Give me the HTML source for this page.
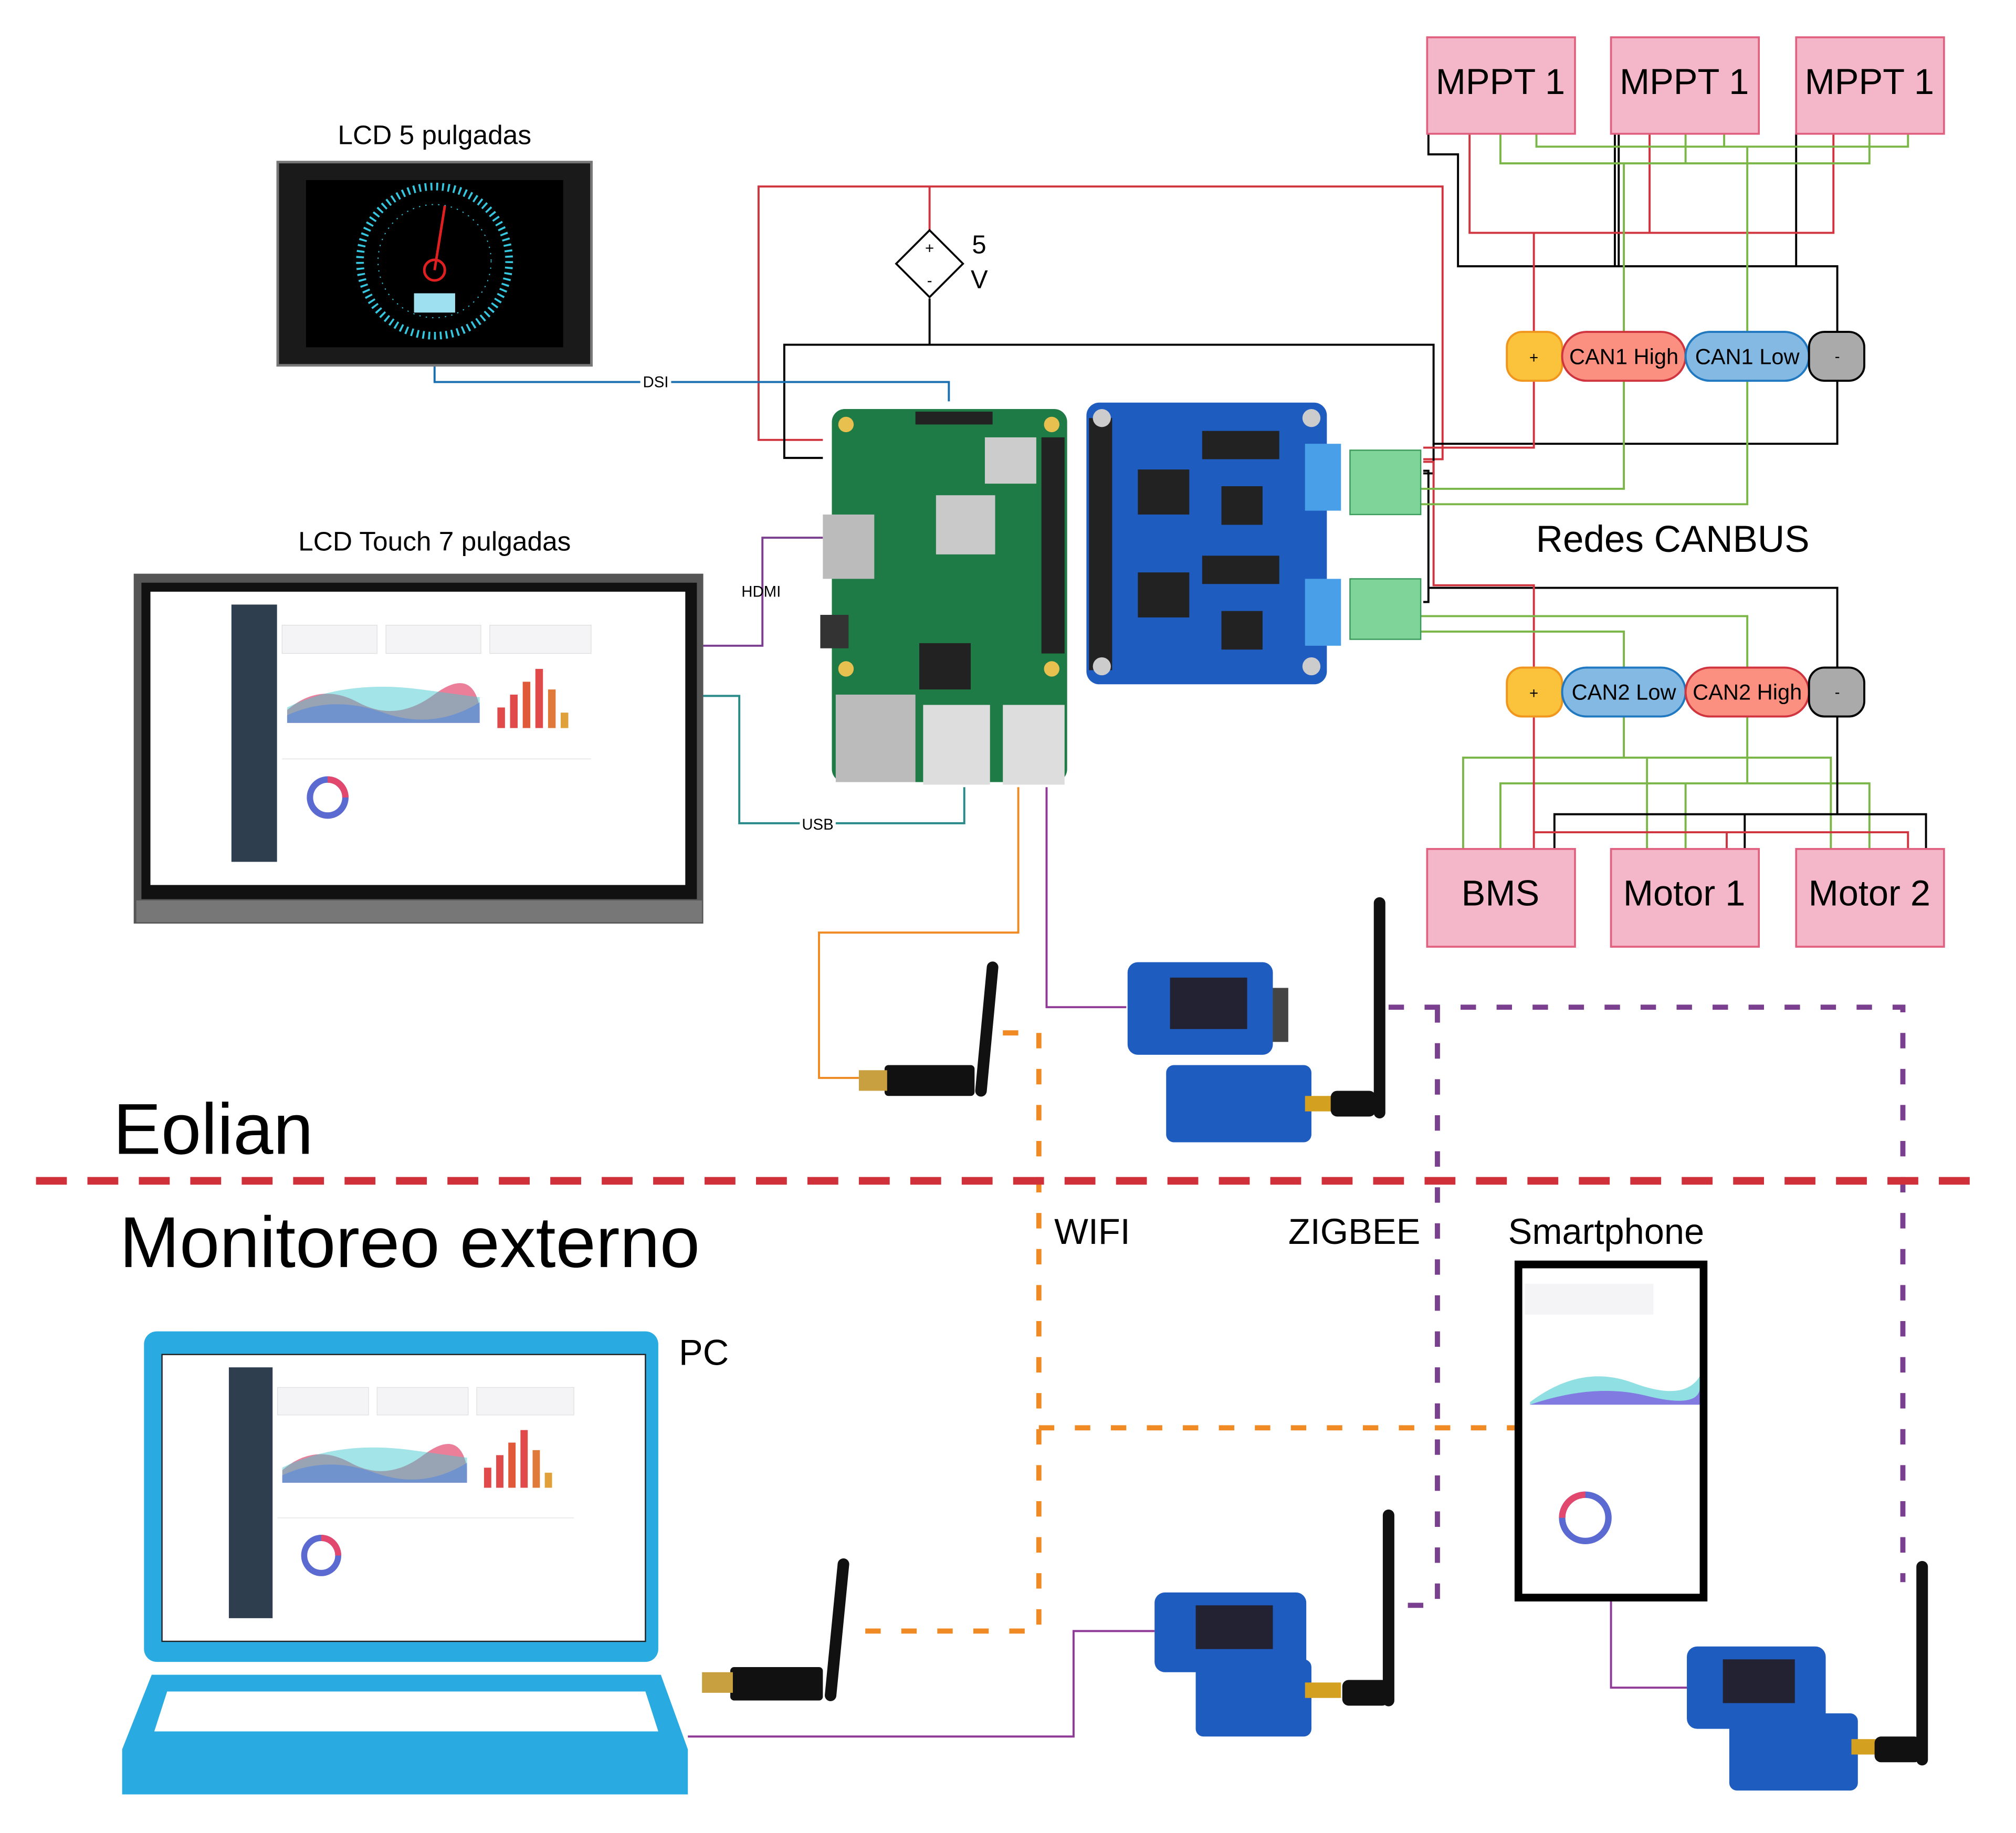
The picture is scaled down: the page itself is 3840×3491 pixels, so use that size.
<!DOCTYPE html>
<html><head><meta charset="utf-8"><style>
html,body{margin:0;padding:0;background:#fff}
svg{display:block}
text{font-family:"Liberation Sans",sans-serif}
</style></head><body>
<svg width="3840" height="3491" viewBox="0 0 1568 1425" preserveAspectRatio="none" xmlns="http://www.w3.org/2000/svg">
<rect width="1568" height="1425" fill="#fff"/>
<defs>
<g id="dash">
  <rect x="0" y="0" width="290" height="200" fill="#fff"/>
  <rect x="0" y="0" width="36" height="200" fill="#2f3e4e"/>
  <rect x="40" y="16" width="75" height="22" fill="#f4f4f6" stroke="#ddd" stroke-width=".5"/>
  <rect x="122" y="16" width="75" height="22" fill="#f4f4f6" stroke="#ddd" stroke-width=".5"/>
  <rect x="204" y="16" width="80" height="22" fill="#f4f4f6" stroke="#ddd" stroke-width=".5"/>
  <path d="M44 82 Q70 60 100 76 T160 70 T196 80 L196 92 L44 92Z" fill="#e2486e" opacity=".7"/>
  <path d="M44 86 Q80 70 120 84 T196 76 L196 92 L44 92Z" fill="#7b4fe0" opacity=".7"/>
  <path d="M44 80 Q90 58 150 66 T196 72 L196 92 L44 92Z" fill="#46c9d0" opacity=".5"/>
  <rect x="210" y="80" width="6" height="16" fill="#e04a4a"/><rect x="220" y="70" width="6" height="26" fill="#e04a4a"/>
  <rect x="230" y="60" width="6" height="36" fill="#e05a3a"/><rect x="240" y="50" width="6" height="46" fill="#e04a4a"/>
  <rect x="250" y="66" width="6" height="30" fill="#e07a3a"/><rect x="260" y="84" width="6" height="12" fill="#e0a03a"/>
  <circle cx="76" cy="150" r="14" fill="none" stroke="#5b6ad0" stroke-width="5"/>
  <path d="M76 136 A14 14 0 0 1 90 150" fill="none" stroke="#e2486e" stroke-width="5"/>
  <line x1="40" y1="120" x2="284" y2="120" stroke="#eee"/>
</g>
</defs>

<g fill="none" stroke-width="1.6">
<polyline points="640,342 590,342 590,145 1122,145 1122,357 1107,357" stroke="#d0343f"/>
<line x1="723" y1="145" x2="723" y2="180" stroke="#d0343f"/>
<polyline points="640,356 610,356 610,268 1115,268 1115,345 1429,345 1429,296" stroke="#000"/>
<line x1="723" y1="232" x2="723" y2="268" stroke="#000"/>
<polyline points="1107,368 1115,368 1115,345" stroke="#000"/>
<polyline points="1107,468 1111,468 1111,366 1107,366" stroke="#000"/>
<polyline points="1111,457 1429,457 1429,519" stroke="#000"/>
<polyline points="1111,104 1111,120 1134,120 1134,207 1429,207 1429,258" stroke="#000"/>
<line x1="1256" y1="104" x2="1256" y2="207" stroke="#000"/>
<line x1="1259" y1="104" x2="1259" y2="207" stroke="#000"/>
<line x1="1397" y1="104" x2="1397" y2="207" stroke="#000"/>
<polyline points="1143,104 1143,181 1426,181 1426,104" stroke="#d0343f"/>
<line x1="1283" y1="104" x2="1283" y2="181" stroke="#d0343f"/>
<line x1="1193" y1="181" x2="1193" y2="258" stroke="#d0343f"/>
<polyline points="1193,296 1193,348 1107,348" stroke="#d0343f"/>
<polyline points="1107,359 1115,359 1115,455 1193,455 1193,519" stroke="#d0343f"/>
<polyline points="1167,104 1167,127 1454,127 1454,104" stroke="#7ab648"/>
<polyline points="1195,104 1195,114 1484,114 1484,104" stroke="#7ab648"/>
<line x1="1311" y1="104" x2="1311" y2="127" stroke="#7ab648"/>
<line x1="1341" y1="104" x2="1341" y2="114" stroke="#7ab648"/>
<line x1="1263" y1="127" x2="1263" y2="258" stroke="#7ab648"/>
<line x1="1359" y1="114" x2="1359" y2="258" stroke="#7ab648"/>
<polyline points="1263,296 1263,380 1105,380" stroke="#7ab648"/>
<polyline points="1359,296 1359,392 1105,392" stroke="#7ab648"/>
<polyline points="1105,479 1359,479 1359,519" stroke="#7ab648"/>
<polyline points="1105,491 1263,491 1263,519" stroke="#7ab648"/>
<polyline points="1263,557 1263,589" stroke="#7ab648"/>
<polyline points="1138,660 1138,589 1424,589 1424,660" stroke="#7ab648"/>
<line x1="1281" y1="589" x2="1281" y2="660" stroke="#7ab648"/>
<line x1="1359" y1="557" x2="1359" y2="609" stroke="#7ab648"/>
<polyline points="1167,660 1167,609 1454,609 1454,660" stroke="#7ab648"/>
<line x1="1311" y1="609" x2="1311" y2="660" stroke="#7ab648"/>
<line x1="1429" y1="557" x2="1429" y2="633" stroke="#000"/>
<polyline points="1209,660 1209,633 1498,633 1498,660" stroke="#000"/>
<line x1="1357" y1="633" x2="1357" y2="660" stroke="#000"/>
<line x1="1193" y1="557" x2="1193" y2="660" stroke="#d0343f"/>
<polyline points="1193,647 1484,647 1484,660" stroke="#d0343f"/>
<line x1="1343" y1="647" x2="1343" y2="660" stroke="#d0343f"/>
</g>

<g fill="#f4b7c9" stroke="#e0607f" stroke-width="1.5">
<rect x="1110" y="29" width="115" height="75"/><rect x="1253" y="29" width="115" height="75"/><rect x="1397" y="29" width="115" height="75"/>
<rect x="1110" y="660" width="115" height="76"/><rect x="1253" y="660" width="115" height="76"/><rect x="1397" y="660" width="115" height="76"/>
</g>
<g font-size="28" text-anchor="middle">
<text x="1167" y="73">MPPT 1</text><text x="1310" y="73">MPPT 1</text><text x="1454" y="73">MPPT 1</text>
<text x="1167" y="704">BMS</text><text x="1310" y="704">Motor 1</text><text x="1454" y="704">Motor 2</text>
</g>

<g stroke-width="1.6">
<rect x="1172" y="258" width="43" height="38" rx="12" fill="#fbc23b" stroke="#f0961e"/>
<rect x="1215" y="258" width="96" height="38" rx="19" fill="#fb9080" stroke="#d0343f"/>
<rect x="1311" y="258" width="96" height="38" rx="19" fill="#83b9e3" stroke="#1f78c0"/>
<rect x="1407" y="258" width="43" height="38" rx="12" fill="#aaa" stroke="#000"/>
<rect x="1172" y="519" width="43" height="38" rx="12" fill="#fbc23b" stroke="#f0961e"/>
<rect x="1215" y="519" width="96" height="38" rx="19" fill="#83b9e3" stroke="#1f78c0"/>
<rect x="1311" y="519" width="96" height="38" rx="19" fill="#fb9080" stroke="#d0343f"/>
<rect x="1407" y="519" width="43" height="38" rx="12" fill="#aaa" stroke="#000"/>
</g>
<g font-size="17" text-anchor="middle">
<text x="1193" y="282" font-size="12">+</text><text x="1263" y="283">CAN1 High</text><text x="1359" y="283">CAN1 Low</text><text x="1429" y="281" font-size="12">-</text>
<text x="1193" y="543" font-size="12">+</text><text x="1263" y="544">CAN2 Low</text><text x="1359" y="544">CAN2 High</text><text x="1429" y="542" font-size="12">-</text>
</g>
<text x="1301" y="429" font-size="29" text-anchor="middle">Redes CANBUS</text>

<polygon points="723,179 749,205 723,231 697,205" fill="#fff" stroke="#000" stroke-width="1.5"/>
<text x="723" y="197" font-size="12" text-anchor="middle">+</text>
<text x="723" y="222" font-size="12" text-anchor="middle">-</text>
<text x="756" y="197" font-size="20">5</text><text x="755" y="224" font-size="20">V</text>

<g fill="none" stroke-width="1.6">
<polyline points="338,284 338,297 738,297 738,312" stroke="#1a6fb0"/>
<polyline points="547,502 593,502 593,418 640,418" stroke="#7b3f8f"/>
<polyline points="547,541 575,541 575,640 750,640 750,612" stroke="#2a8a8a"/>
<polyline points="792,612 792,725 637,725 637,838 668,838" stroke="#f08a24"/>
<polyline points="814,612 814,783 876,783" stroke="#8e3a96"/>
<polyline points="535,1350 835,1350 835,1268 898,1268" stroke="#8e3a96"/>
<polyline points="1253,1245 1253,1312 1312,1312" stroke="#8e3a96"/>
</g>
<rect x="498" y="290" width="24" height="13" fill="#fff"/><text x="510" y="301" font-size="12" text-anchor="middle">DSI</text>
<text x="592" y="464" font-size="12" text-anchor="middle">HDMI</text>
<rect x="622" y="634" width="28" height="13" fill="#fff"/><text x="636" y="645" font-size="12" text-anchor="middle">USB</text>

<text x="338" y="112" font-size="21" text-anchor="middle">LCD 5 pulgadas</text>
<rect x="216" y="126" width="244" height="158" fill="#1a1a1a" stroke="#777" stroke-width="2"/>
<rect x="238" y="140" width="200" height="130" fill="#000"/>
<circle cx="338" cy="203" r="58" fill="none" stroke="#35c8e0" stroke-width="6" stroke-dasharray="1.5 3"/>
<circle cx="338" cy="203" r="44" fill="none" stroke="#35c8e0" stroke-width=".8" stroke-dasharray="1 4"/>
<line x1="338" y1="210" x2="346" y2="160" stroke="#e02020" stroke-width="2"/>
<circle cx="338" cy="210" r="8" fill="none" stroke="#e02020" stroke-width="2"/>
<rect x="322" y="228" width="32" height="15" fill="#9fe0f0"/>

<text x="338" y="428" font-size="21" text-anchor="middle">LCD Touch 7 pulgadas</text>
<rect x="104" y="446" width="443" height="272" fill="#555"/>
<rect x="110" y="453" width="432" height="246" fill="#111"/>
<rect x="117" y="460" width="416" height="228" fill="#fff"/>
<rect x="106" y="700" width="440" height="17" fill="#777"/>
<use href="#dash" transform="translate(180,470) scale(0.985,1)"/>

<rect x="647" y="318" width="183" height="290" rx="10" fill="#1f7b45"/>
<circle cx="658" cy="330" r="6" fill="#e8c050"/><circle cx="818" cy="330" r="6" fill="#e8c050"/>
<circle cx="658" cy="520" r="6" fill="#e8c050"/><circle cx="818" cy="520" r="6" fill="#e8c050"/>
<rect x="810" y="340" width="18" height="168" fill="#222"/>
<rect x="640" y="400" width="40" height="50" fill="#bbb"/>
<rect x="728" y="385" width="46" height="46" fill="#c9c9c9"/>
<rect x="766" y="340" width="40" height="36" fill="#ccc"/>
<rect x="715" y="500" width="40" height="36" fill="#222"/>
<rect x="650" y="540" width="62" height="68" fill="#bbb"/>
<rect x="718" y="548" width="52" height="62" fill="#ddd"/>
<rect x="780" y="548" width="48" height="62" fill="#ddd"/>
<rect x="712" y="320" width="60" height="10" fill="#222"/>
<rect x="638" y="478" width="22" height="26" fill="#333"/>

<rect x="845" y="313" width="187" height="219" rx="10" fill="#1f5cc0"/>
<rect x="847" y="325" width="18" height="196" fill="#222"/>
<circle cx="857" cy="325" r="7" fill="#ccc"/><circle cx="1020" cy="325" r="7" fill="#ccc"/>
<circle cx="857" cy="518" r="7" fill="#ccc"/><circle cx="1020" cy="518" r="7" fill="#ccc"/>
<rect x="935" y="335" width="60" height="22" fill="#222"/><rect x="885" y="365" width="40" height="35" fill="#222"/>
<rect x="950" y="378" width="32" height="30" fill="#222"/><rect x="935" y="432" width="60" height="22" fill="#222"/>
<rect x="885" y="445" width="40" height="35" fill="#222"/><rect x="950" y="475" width="32" height="30" fill="#222"/>
<rect x="1015" y="345" width="28" height="52" fill="#4aa0e8"/><rect x="1015" y="450" width="28" height="52" fill="#4aa0e8"/>
<rect x="1050" y="350" width="55" height="50" fill="#7fd49a" stroke="#3a9a5a"/>
<rect x="1050" y="450" width="55" height="47" fill="#7fd49a" stroke="#3a9a5a"/>

<line x1="772" y1="752" x2="763" y2="848" stroke="#111" stroke-width="9" stroke-linecap="round"/>
<rect x="688" y="828" width="70" height="24" rx="3" fill="#111"/>
<rect x="668" y="832" width="22" height="16" fill="#c9a040"/>
<rect x="877" y="748" width="113" height="72" rx="8" fill="#1f5cc0"/>
<rect x="910" y="760" width="60" height="40" fill="#223"/>
<rect x="990" y="768" width="12" height="42" fill="#444"/>
<rect x="907" y="828" width="113" height="60" rx="6" fill="#1f5cc0"/>
<rect x="1015" y="852" width="30" height="12" fill="#d4a020"/>
<line x1="1073" y1="702" x2="1073" y2="865" stroke="#111" stroke-width="9" stroke-linecap="round"/>
<rect x="1035" y="848" width="35" height="20" rx="5" fill="#111"/>

<g fill="none" stroke-width="4">
<polyline points="780,803 808,803 808,1268 662,1268" stroke="#f08a24" stroke-dasharray="12 16"/>
<line x1="808" y1="1110" x2="1180" y2="1110" stroke="#f08a24" stroke-dasharray="12 16"/>
<polyline points="1080,783 1480,783 1480,1230" stroke="#7b3f8f" stroke-dasharray="12 16"/>
<polyline points="1118,783 1118,1248 1090,1248" stroke="#7b3f8f" stroke-dasharray="12 16"/>
<line x1="28" y1="918" x2="1540" y2="918" stroke="#d0303a" stroke-width="6" stroke-dasharray="24 16"/>
</g>

<text x="88" y="897" font-size="56">Eolian</text>
<text x="93" y="985" font-size="56">Monitoreo externo</text>
<text x="820" y="967" font-size="28">WIFI</text>
<text x="1002" y="967" font-size="28">ZIGBEE</text>
<text x="1173" y="967" font-size="28">Smartphone</text>
<text x="528" y="1061" font-size="28">PC</text>

<rect x="112" y="1035" width="400" height="257" rx="10" fill="#29abe2"/>
<rect x="126" y="1053" width="376" height="223" fill="#fff" stroke="#222"/>
<use href="#dash" transform="translate(178,1063) scale(0.945,0.975)"/>
<polygon points="118,1302 514,1302 535,1360 535,1395 95,1395 95,1360" fill="#29abe2"/>
<polygon points="130,1315 502,1315 512,1346 120,1346" fill="#fff"/>

<line x1="656" y1="1216" x2="646" y2="1318" stroke="#111" stroke-width="9" stroke-linecap="round"/>
<rect x="568" y="1296" width="72" height="26" rx="3" fill="#111"/>
<rect x="546" y="1300" width="24" height="16" fill="#c9a040"/>

<rect x="898" y="1238" width="118" height="62" rx="8" fill="#1f5cc0"/>
<rect x="930" y="1248" width="60" height="34" fill="#223"/>
<rect x="930" y="1290" width="90" height="60" rx="6" fill="#1f5cc0"/>
<rect x="1015" y="1308" width="28" height="12" fill="#d4a020"/>
<line x1="1080" y1="1178" x2="1080" y2="1322" stroke="#111" stroke-width="9" stroke-linecap="round"/>
<rect x="1044" y="1306" width="36" height="20" rx="5" fill="#111"/>

<rect x="1178" y="980" width="150" height="265" fill="#000"/>
<rect x="1184" y="986" width="138" height="253" fill="#fff"/>
<rect x="1186" y="998" width="100" height="24" fill="#f4f4f6"/>
<path d="M1190 1090 Q1230 1060 1270 1075 T1322 1070 L1322 1092 L1190 1092Z" fill="#46c9d0" opacity=".6"/>
<path d="M1190 1092 Q1240 1075 1280 1085 T1322 1080 L1322 1092Z" fill="#7b4fe0" opacity=".7"/>
<circle cx="1233" cy="1180" r="18" fill="none" stroke="#5b6ad0" stroke-width="5"/>
<path d="M1215 1180 A18 18 0 0 1 1233 1162" fill="none" stroke="#e2486e" stroke-width="5"/>

<rect x="1312" y="1280" width="108" height="64" rx="8" fill="#1f5cc0"/>
<rect x="1340" y="1290" width="56" height="34" fill="#223"/>
<rect x="1345" y="1332" width="100" height="60" rx="6" fill="#1f5cc0"/>
<rect x="1440" y="1352" width="28" height="12" fill="#d4a020"/>
<line x1="1495" y1="1218" x2="1495" y2="1368" stroke="#111" stroke-width="9" stroke-linecap="round"/>
<rect x="1458" y="1350" width="36" height="20" rx="5" fill="#111"/>
</svg>
</body></html>
